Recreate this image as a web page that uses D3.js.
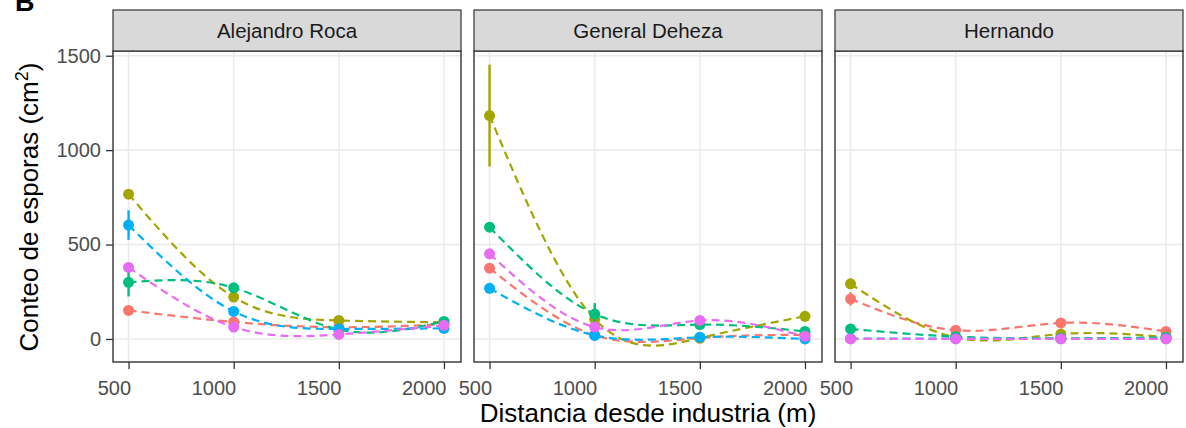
<!DOCTYPE html>
<html><head><meta charset="utf-8">
<script src="https://cdn.jsdelivr.net/npm/d3@7"></script>
<style>body{margin:0;background:#fff} text{font-family:"Liberation Sans",Arial,sans-serif}</style>
</head><body><svg id="c" width="1186" height="428"></svg>
<script>
// ---- data ----
const sites = ["Alejandro Roca", "General Deheza", "Hernando"];
const distances = [500, 1000, 1500, 2000];
const groups = ["G1", "G2", "G3", "G4", "G5"];
const groupColors = ["#F8766D", "#A3A500", "#00BF7D", "#00B0F6", "#E76BF3"];
const xTicks = [500, 1000, 1500, 2000];
const yTicks = [0, 500, 1000, 1500];

// means per group (rows: G1..G5), columns: distances
const rocaMean   = [[151, 90, 62, 78], [767, 222, 98, 88], [300, 271, 50, 93], [603, 146, 53, 56], [379, 63, 24, 72]];
const rocaSE     = [[15, 10, 8, 8], [12, 20, 10, 8], [75, 25, 8, 10], [78, 15, 8, 8], [25, 10, 6, 8]];
const dehezaMean = [[375, 20, 5, 22], [1183, 105, 5, 120], [592, 132, 76, 40], [268, 19, 9, 0], [451, 63, 98, 14]];
const dehezaSE   = [[20, 6, 4, 6], [270, 25, 4, 10], [15, 58, 8, 8], [20, 6, 4, 3], [25, 8, 10, 6]];
const hernMean   = [[212, 46, 85, 40], [292, 8, 26, 10], [53, 12, 3, 8], [2, 2, 2, 2], [0, 0, 0, 0]];
const hernSE     = [[35, 8, 10, 6], [15, 4, 6, 4], [15, 4, 2, 3], [1, 1, 1, 1], [0, 0, 0, 0]];

const siteMeans = [rocaMean, dehezaMean, hernMean];
const siteSE = [rocaSE, dehezaSE, hernSE];

// ---- layout ----
const svg = d3.select("#c");
const panelX = [113, 474, 835];
const panelW = 348;
const panelTop = 51, panelBottom = 362;
const stripTop = 10;

const y = d3.scaleLinear().domain([-122, 1525]).range([panelBottom, panelTop]);

// "B" label
svg.append("text").attr("x", 15).attr("y", 11).attr("font-size", 27).attr("font-weight", "bold").attr("fill", "#000").text("B");

sites.forEach((site, si) => {
  const x0 = panelX[si];
  const x = d3.scaleLinear().domain([426, 2081]).range([x0, x0 + panelW]);
  const g = svg.append("g");

  g.append("rect").attr("x", x0).attr("y", panelTop).attr("width", panelW).attr("height", panelBottom - panelTop).attr("fill", "#fff");
  g.selectAll(".gy").data(yTicks).join("line")
    .attr("x1", x0).attr("x2", x0 + panelW).attr("y1", d => y(d)).attr("y2", d => y(d))
    .attr("stroke", "#EBEBEB").attr("stroke-width", 1.6);
  g.selectAll(".gx").data(xTicks).join("line")
    .attr("y1", panelTop).attr("y2", panelBottom).attr("x1", d => x(d)).attr("x2", d => x(d))
    .attr("stroke", "#EBEBEB").attr("stroke-width", 1.6);

  const means = siteMeans[si], ses = siteSE[si];
  const line = d3.line().x((d, i) => x(distances[i])).y(d => y(d)).curve(d3.curveNatural);

  means.forEach((m, gi) => {
    g.append("path").attr("d", line(m)).attr("fill", "none")
      .attr("stroke", groupColors[gi]).attr("stroke-width", 2.2).attr("stroke-dasharray", "8,5");
  });
  means.forEach((m, gi) => {
    m.forEach((v, i) => {
      const se = ses[gi][i];
      g.append("line").attr("x1", x(distances[i])).attr("x2", x(distances[i]))
        .attr("y1", y(v - se)).attr("y2", y(v + se))
        .attr("stroke", groupColors[gi]).attr("stroke-width", 2.4);
      g.append("circle").attr("cx", x(distances[i])).attr("cy", y(v)).attr("r", 5.5)
        .attr("fill", groupColors[gi]);
    });
  });

  g.append("rect").attr("x", x0).attr("y", panelTop).attr("width", panelW).attr("height", panelBottom - panelTop)
    .attr("fill", "none").attr("stroke", "#333").attr("stroke-width", 1.4);
  g.append("rect").attr("x", x0).attr("y", stripTop).attr("width", panelW).attr("height", panelTop - stripTop)
    .attr("fill", "#D9D9D9").attr("stroke", "#333").attr("stroke-width", 1.2);
  g.append("text").attr("x", x0 + panelW / 2).attr("y", 38).attr("text-anchor", "middle")
    .attr("font-size", 20.5).attr("fill", "#1A1A1A").text(site);

  const xa = g.append("g").attr("transform", `translate(0,${panelBottom})`)
    .call(d3.axisBottom(x).tickValues(xTicks).tickSize(7).tickPadding(3).tickFormat(d3.format("d")));
  xa.select(".domain").remove();
  xa.selectAll(".tick line").attr("stroke", "#333").attr("stroke-width", 1.3);
  xa.selectAll(".tick text").attr("font-size", 20).attr("fill", "#4D4D4D")
    .attr("text-anchor", "end").attr("x", 2).attr("y", 19).attr("dy", "0.71em")
    .style("font-family", "'Liberation Sans', Arial, sans-serif");

  if (si === 0) {
    const ya = g.append("g").attr("transform", `translate(${x0},0)`)
      .call(d3.axisLeft(y).tickValues(yTicks).tickSize(7).tickPadding(5).tickFormat(d3.format("d")));
    ya.select(".domain").remove();
    ya.selectAll(".tick line").attr("stroke", "#333").attr("stroke-width", 1.3);
    ya.selectAll(".tick text").attr("font-size", 20).attr("fill", "#4D4D4D")
      .style("font-family", "'Liberation Sans', Arial, sans-serif");
  }
});

svg.append("text").attr("x", 648).attr("y", 422).attr("text-anchor", "middle").attr("font-size", 26).attr("fill", "#000")
  .text("Distancia desde industria (m)");
const yt = svg.append("text").attr("transform", "translate(38,207) rotate(-90)").attr("text-anchor", "middle")
  .attr("font-size", 26).attr("fill", "#000");
yt.append("tspan").text("Conteo de esporas (cm");
yt.append("tspan").attr("font-size", 18).attr("dy", -10).text("2");
yt.append("tspan").attr("dy", 10).text(")");
</script></body></html>
